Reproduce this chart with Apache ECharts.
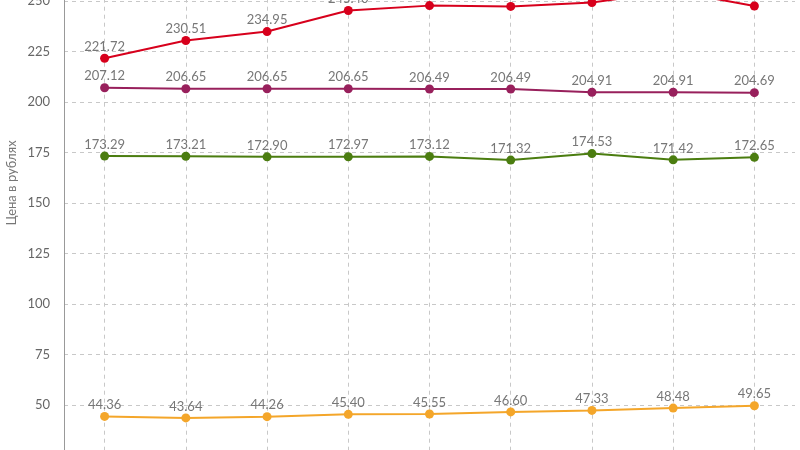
<!DOCTYPE html>
<html><head><meta charset="utf-8">
<script src="https://cdn.jsdelivr.net/npm/echarts@6/dist/echarts.min.js"></script>
<style>html,body{margin:0;padding:0;background:#fff}#c{width:800px;height:450px}</style>
</head><body><div id="c"></div>
<script>
const categories = ['2015','2016','2017','2018','2019','2020','2021','2022','2023'];
const redValues = [221.72, 230.51, 234.95, 245.40, 247.80, 247.40, 249.30, 255.00, 247.60];
const purpleValues = [207.12, 206.65, 206.65, 206.65, 206.49, 206.49, 204.91, 204.91, 204.69];
const greenValues = [173.29, 173.21, 172.90, 172.97, 173.12, 171.32, 174.53, 171.42, 172.65];
const orangeValues = [44.36, 43.64, 44.26, 45.40, 45.55, 46.60, 47.33, 48.48, 49.65];
const yTicks = { min: 0, max: 275, interval: 25 };
const axisName = 'Цена в рублях';

const font = 'Lato, "Open Sans", sans-serif';
function mk(name, data, color) {
  return {
    name, type: 'line', data,
    symbol: 'circle', symbolSize: 9,
    itemStyle: { color },
    lineStyle: { color, width: 2 },
    label: { show: true, position: 'top', distance: 0.5, color: '#777', fontSize: 13, fontFamily: font,
      formatter: p => p.value.toFixed(2) },
    emphasis: { disabled: true }
  };
}
const chart = echarts.init(document.getElementById('c'), null, { renderer: 'canvas' });
chart.setOption({
  animation: false,
  backgroundColor: '#fff',
  grid: { left: 64, right: 5, top: -49.3, bottom: -56, containLabel: false, outerBoundsMode: 'none' },
  xAxis: {
    type: 'category', data: categories, boundaryGap: true,
    axisLine: { show: false }, axisTick: { show: false }, axisLabel: { show: false },
    splitLine: { show: true, alignWithLabel: true, lineStyle: { color: '#c8c8c8', type: [4, 4], width: 1 } }
  },
  yAxis: {
    type: 'value', min: yTicks.min, max: yTicks.max, interval: yTicks.interval,
    axisLine: { show: true, lineStyle: { color: '#999', width: 1 } },
    axisTick: { show: false },
    axisLabel: { color: '#666', fontSize: 13, fontFamily: font, margin: 14 },
    splitLine: { show: true, lineStyle: { color: '#c8c8c8', type: [4, 4], width: 1 } }
  },
  graphic: [{
    type: 'text', x: 12, y: 183, rotation: Math.PI / 2,
    style: { text: axisName, fill: '#777', fontSize: 13, fontFamily: font, align: 'center', verticalAlign: 'middle' }
  }],
  series: [
    mk('red', redValues, '#d7001c'),
    mk('purple', purpleValues, '#98205c'),
    mk('green', greenValues, '#4b7d10'),
    mk('orange', orangeValues, '#f4a62a')
  ]
});
</script></body></html>
